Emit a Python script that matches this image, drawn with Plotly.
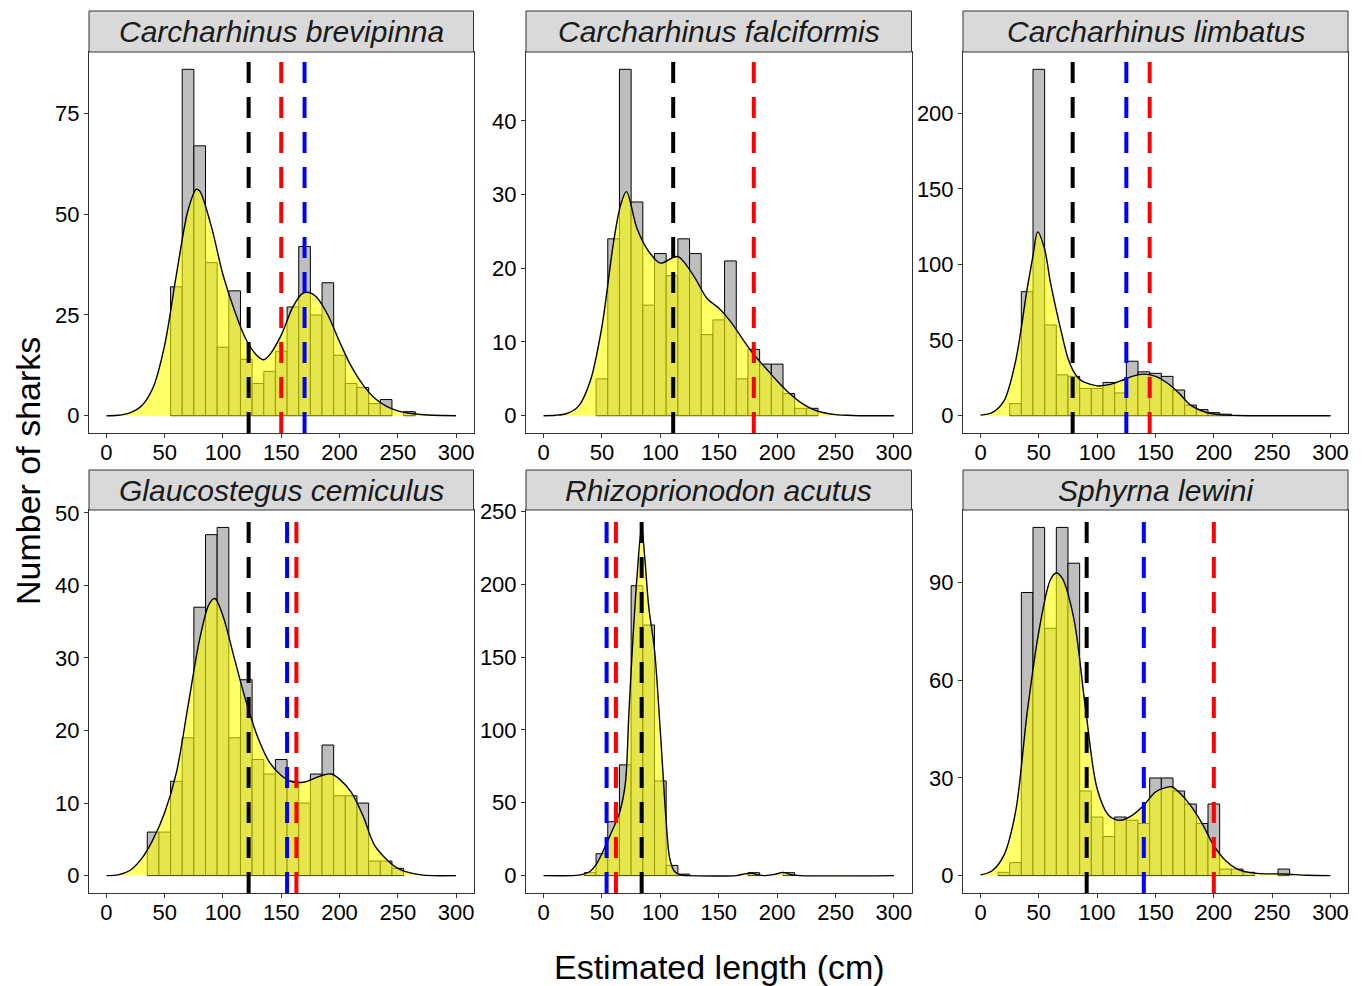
import plotly.graph_objects as go

# ---------------- data ----------------
species = ["Carcharhinus brevipinna", "Carcharhinus falciformis", "Carcharhinus limbatus",
           "Glaucostegus cemiculus", "Rhizoprionodon acutus", "Sphyrna lewini"]

# histogram bin centres (10 cm bins) and counts
brevipinna_bins = list(range(60, 270, 10))
brevipinna_counts = [32, 86, 67, 38, 17, 31, 14, 8, 11, 16, 27, 42, 25, 33, 15, 8, 7, 3, 4, 0, 1]
falciformis_bins = list(range(50, 240, 10))
falciformis_counts = [5, 24, 47, 29, 15, 22, 19, 24, 22, 11, 13, 21, 5, 9, 7, 7, 3, 1, 1]
limbatus_bins = list(range(30, 220, 10))
limbatus_counts = [8, 82, 229, 60, 27, 26, 18, 18, 22, 15, 36, 29, 28, 26, 17, 7, 4, 2, 1]
cemiculus_bins = list(range(40, 260, 10))
cemiculus_counts = [6, 6, 13, 19, 37, 47, 48, 19, 27, 16, 14, 16, 13, 10, 14, 18, 11, 11, 10, 2, 2, 1]
acutus_bins = list(range(40, 220, 10))
acutus_counts = [2, 15, 37, 76, 199, 172, 65, 7, 1, 0, 0, 0, 0, 0, 2, 0, 0, 2]
lewini_bins = list(range(20, 270, 10))
lewini_counts = [1, 4, 87, 107, 76, 107, 96, 26, 18, 12, 18, 17, 16, 30, 30, 26, 22, 16, 22, 2, 2, 1, 0, 0, 2]

# density curves (scaled to counts)
brevipinna_dx = [0, 10, 20, 30, 40, 50, 60, 70, 77, 80, 90, 100, 110, 120, 130, 135, 140, 150, 160, 168, 174,
                 180, 190, 200, 210, 220, 230, 240, 250, 260, 270, 280, 300]
brevipinna_dy = [0, 0.1, 0.7, 2.4, 7, 17.6, 35, 51, 56.2, 55.8, 47, 35, 26, 18.8, 14.7, 13.9, 15.1, 20, 27, 30.3,
                 30.6, 29.5, 25, 18.4, 12.3, 7.7, 4.4, 2.4, 1.2, 0.6, 0.3, 0.1, 0]
falciformis_dx = [0, 10, 20, 30, 40, 50, 60, 66, 71, 80, 90, 100, 110, 115, 120, 130, 140, 150, 160, 170, 180,
                  190, 200, 210, 220, 230, 240, 250, 260, 270, 300]
falciformis_dy = [0, 0.05, 0.3, 1.3, 4.7, 12.1, 23.6, 28.6, 30.4, 25.4, 22.3, 20.7, 21.4, 21.6, 20.9, 18.6, 15.9,
                  14.6, 12.8, 10.5, 8.3, 6.5, 4.7, 3.1, 1.8, 0.9, 0.4, 0.15, 0.05, 0, 0]
limbatus_dx = [0, 10, 20, 30, 40, 45, 49, 55, 60, 70, 75, 80, 85, 90, 100, 110, 120, 130, 140, 150, 160, 170,
               180, 190, 200, 210, 220, 230, 300]
limbatus_dy = [0.4, 2, 9.6, 35.8, 84, 105.8, 121.5, 110, 88, 53, 38, 29, 24, 21.8, 19.7, 20.5, 23, 26, 27.5, 26,
               21.6, 15, 7, 3.1, 1.1, 0.4, 0.1, 0, 0]
cemiculus_dx = [0, 10, 20, 30, 40, 50, 60, 70, 80, 88, 93, 100, 110, 120, 130, 140, 150, 160, 170, 180, 187, 193,
                200, 210, 220, 230, 240, 250, 260, 270, 280, 300]
cemiculus_dy = [0, 0.1, 0.7, 2.3, 5, 8.7, 14.2, 23.4, 32.6, 37.4, 38.2, 35.8, 29.8, 23.9, 19, 15.6, 13.8, 12.9,
                12.9, 13.5, 13.9, 14, 13.3, 11.5, 8.3, 4.2, 2.3, 1, 0.4, 0.1, 0, 0]
acutus_dx = [0, 25, 30, 35, 40, 45, 50, 55, 60, 65, 70, 73, 76, 80, 84, 87, 90, 95, 100, 105, 108, 112, 116, 120,
             125, 165, 172, 178, 184, 190, 198, 205, 212, 220, 300]
acutus_dy = [0, 0, 0.3, 1.2, 3, 7.5, 15, 24, 33, 43, 63, 110, 155, 205, 239, 215, 185, 155, 99, 37, 12, 3, 0.8,
             0.2, 0, 0, 1.2, 1.6, 0.5, 0, 0.8, 2.2, 0.6, 0, 0]
lewini_dx = [0, 10, 20, 30, 40, 50, 60, 65, 70, 80, 90, 100, 110, 120, 130, 140, 150, 160, 164, 170, 180, 190,
             200, 210, 220, 230, 240, 260, 280, 300]
lewini_dy = [0.2, 1.5, 6.2, 19.5, 50, 75, 91, 93, 91.4, 79, 51.4, 26.7, 18.5, 17, 18.5, 21.6, 25.7, 27.2, 27.3,
             25.7, 21.6, 16, 9.2, 4.6, 2, 1, 0.6, 0.5, 0.1, 0]

# reference lengths (vertical dashed lines): (value, colour)
brevipinna_lines = [(122, "black"), (150, "red"), (170, "blue")]
falciformis_lines = [(111, "black"), (180, "red")]
limbatus_lines = [(79, "black"), (125, "blue"), (145, "red")]
cemiculus_lines = [(122, "black"), (155, "blue"), (163, "red")]
acutus_lines = [(54, "blue"), (62, "red"), (84, "black")]
lewini_lines = [(91, "black"), (140, "blue"), (200, "red")]

x_ticks = [0, 50, 100, 150, 200, 250, 300]
y_ticks = [[0, 25, 50, 75], [0, 10, 20, 30, 40], [0, 50, 100, 150, 200],
           [0, 10, 20, 30, 40, 50], [0, 50, 100, 150, 200, 250], [0, 30, 60, 90]]

panels = [
    (brevipinna_bins, brevipinna_counts, brevipinna_dx, brevipinna_dy, brevipinna_lines),
    (falciformis_bins, falciformis_counts, falciformis_dx, falciformis_dy, falciformis_lines),
    (limbatus_bins, limbatus_counts, limbatus_dx, limbatus_dy, limbatus_lines),
    (cemiculus_bins, cemiculus_counts, cemiculus_dx, cemiculus_dy, cemiculus_lines),
    (acutus_bins, acutus_counts, acutus_dx, acutus_dy, acutus_lines),
    (lewini_bins, lewini_counts, lewini_dx, lewini_dy, lewini_lines),
]

# ---------------- layout geometry ----------------
W, H = 1362, 986
col_px = [(89, 473.5), (526, 911.5), (963, 1348)]
row_plot_px = [(52, 433), (510, 893)]
row_strip_px = [(11, 52), (470, 510)]

FONT = "Liberation Sans, Arial, Helvetica, sans-serif"
colmap = {"black": "#000000", "red": "#FF0000", "blue": "#0000FF"}

fig = go.Figure()
layout = dict(width=W, height=H, autosize=False, margin=dict(l=0, r=0, t=0, b=0, pad=0),
              paper_bgcolor="white", plot_bgcolor="white", showlegend=False,
              font=dict(family=FONT, color="black"))
shapes = []
annotations = []

for i, (bins, counts, dx, dy, vlines) in enumerate(panels):
    n = i + 1
    r, c = divmod(i, 3)
    xs = "" if n == 1 else str(n)
    bx = [b for b, k in zip(bins, counts) if k > 0]
    by = [k for k in counts if k > 0]
    fig.add_trace(go.Bar(x=bx, y=by, width=10, xaxis="x" + xs, yaxis="y" + xs,
                         marker=dict(color="#BEBEBE", line=dict(color="black", width=1)),
                         hoverinfo="skip"))
    fig.add_trace(go.Scatter(x=dx, y=dy, mode="lines", xaxis="x" + xs, yaxis="y" + xs,
                             line=dict(color="black", width=1.4, shape="spline", smoothing=0.9),
                             fill="tozeroy", fillcolor="rgba(255,255,0,0.6)", hoverinfo="skip"))
    ymax = max(max(counts), max(dy))
    x0p, x1p = col_px[c]
    y0p, y1p = row_plot_px[r]
    axis_common = dict(showgrid=False, zeroline=False, showline=True, mirror=True,
                       linecolor="#333333", linewidth=1, ticks="outside", ticklen=4,
                       tickwidth=1, tickcolor="#333333", automargin=False,
                       tickfont=dict(size=22, color="black", family=FONT))
    layout["xaxis" + xs] = dict(axis_common, domain=[x0p / W, x1p / W], range=[-15, 315],
                                tickvals=x_ticks, anchor="y" + xs, ticklabelstandoff=-4)
    layout["yaxis" + xs] = dict(axis_common, domain=[1 - y1p / H, 1 - y0p / H],
                                range=[-0.05 * ymax, 1.05 * ymax], tickvals=y_ticks[i],
                                anchor="x" + xs)
    for v, col in vlines:
        shapes.append(dict(type="line", xref="x" + xs, yref="y" + xs + " domain",
                           x0=v, x1=v, y0=0, y1=1, layer="above",
                           line=dict(color=colmap[col], width=4, dash="21px,14px")))
    s0, s1 = row_strip_px[r]
    shapes.append(dict(type="rect", xref="paper", yref="paper",
                       x0=x0p / W, x1=x1p / W, y0=1 - s1 / H, y1=1 - s0 / H,
                       fillcolor="#D9D9D9", line=dict(color="#333333", width=1), layer="above"))
    annotations.append(dict(text="<i>" + species[i] + "</i>", xref="paper", yref="paper",
                            x=(x0p + x1p) / 2 / W, y=1 - (s0 + s1) / 2 / H,
                            xanchor="center", yanchor="middle", showarrow=False,
                            font=dict(size=30, color="#1A1A1A", family=FONT)))

annotations.append(dict(text="Number of sharks", xref="paper", yref="paper",
                        x=28 / W, y=1 - 471 / H, textangle=-90, showarrow=False,
                        xanchor="center", yanchor="middle",
                        font=dict(size=34, color="black", family=FONT)))
annotations.append(dict(text="Estimated length (cm)", xref="paper", yref="paper",
                        x=719 / W, y=1 - 967 / H, showarrow=False,
                        xanchor="center", yanchor="middle",
                        font=dict(size=34, color="black", family=FONT)))

layout["shapes"] = shapes
layout["annotations"] = annotations
layout["barmode"] = "overlay"
fig.update_layout(**layout)

fig.write_html("out.html", config={"displayModeBar": False},
               post_script="document.body.style.margin='0px';document.body.style.overflow='hidden';")
